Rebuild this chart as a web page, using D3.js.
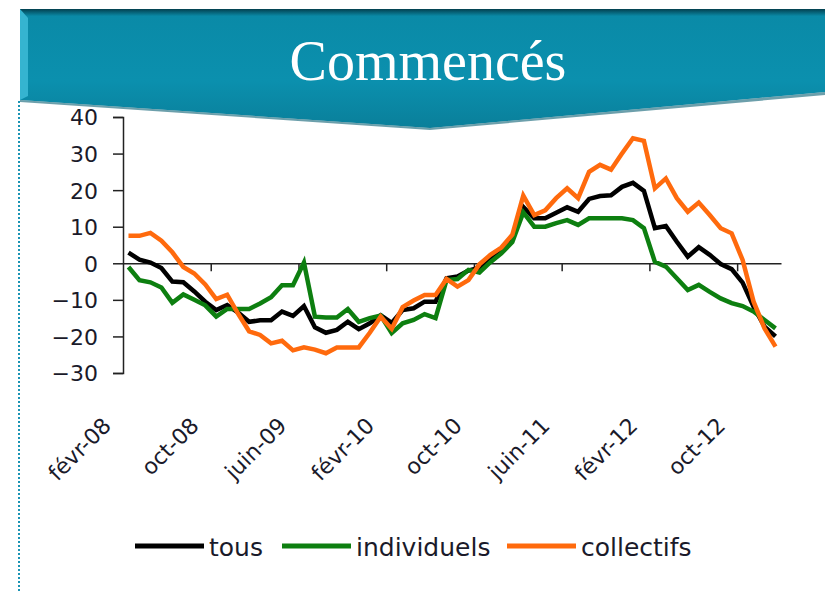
<!DOCTYPE html>
<html lang="fr">
<head>
<meta charset="UTF-8">
<title>Commencés</title>
<script src="https://d3js.org/d3.v7.min.js"></script>
<style>
  body { margin: 0; background: #fff; }
  .lbl { font-family: "DejaVu Sans", Verdana, sans-serif; fill: #1a1a2a; }
</style>
</head>
<body>
<svg id="chart" width="825" height="593"></svg>
<script>
// months févr-08 .. janv-13
const monthNames = ["janv", "févr", "mars", "avr", "mai", "juin", "juil", "août", "sept", "oct", "nov", "déc"];
const months = [];
for (let k = 1; k < 61; k++) {
    months.push(monthNames[k % 12] + "-" + String(8 + Math.floor(k / 12)).padStart(2, "0"));
}
const tickLabels = ["févr-08", "oct-08", "juin-09", "févr-10", "oct-10", "juin-11", "févr-12", "oct-12"];
const yTicks = [-30, -20, -10, 0, 10, 20, 30, 40];

const tous = [2.9, 1.0, 0.2, -1.3, -5.0, -5.2, -7.7, -10.5, -12.8, -11.4,
    -13.5, -16.0, -15.6, -15.6, -13.2, -14.4, -11.7, -17.5, -19.0, -18.2,
    -16.0, -18.0, -16.4, -14.2, -16.3, -12.8, -12.3, -10.5, -10.5, -4.1,
    -3.6, -2.0, -1.2, 1.0, 3.5, 6.6, 15.4, 12.3, 12.3, 13.8,
    15.3, 14.1, 17.6, 18.4, 18.6, 20.9, 22.0, 19.8, 9.6, 10.2,
    5.9, 1.8, 4.4, 2.3, -0.2, -1.6, -5.3, -11.9, -17.3, -20.0];
const individuels = [-1.0, -4.6, -5.2, -6.6, -10.8, -8.5, -10.0, -11.5, -14.6, -12.5,
    -12.5, -12.5, -11.0, -9.3, -6.0, -6.0, 0.2, -14.6, -14.8, -14.8,
    -12.5, -16.0, -15.0, -14.3, -19.1, -16.4, -15.5, -13.9, -15.0, -4.6,
    -4.3, -1.8, -2.5, 0.3, 2.7, 5.8, 13.9, 10.0, 10.0, 11.0,
    11.8, 10.5, 12.3, 12.3, 12.3, 12.3, 11.8, 9.6, 0.4, -0.9,
    -4.1, -7.3, -5.9, -7.8, -9.6, -10.9, -11.7, -13.2, -15.5, -17.8];
const collectifs = [7.5, 7.5, 8.3, 6.2, 3.0, -1.0, -2.8, -5.8, -9.8, -8.6,
    -13.8, -18.6, -19.6, -21.9, -21.2, -23.8, -23.0, -23.6, -24.6, -23.0,
    -23.0, -23.0, -19.0, -14.6, -17.9, -12.0, -10.2, -8.7, -8.7, -4.3,
    -6.4, -4.6, -0.3, 2.3, 4.3, 7.8, 18.5, 13.2, 14.5, 17.8,
    20.5, 17.8, 25.0, 26.9, 25.6, 30.0, 34.2, 33.5, 20.5, 23.2,
    17.8, 14.1, 16.6, 13.2, 9.6, 8.2, 0.9, -10.5, -17.8, -22.8];

const series = [
    { name: "tous", values: tous, color: "#000000" },
    { name: "individuels", values: individuels, color: "#0d7f10" },
    { name: "collectifs", values: collectifs, color: "#ff6a0d" }
];

const svg = d3.select("#chart");
const defs = svg.append("defs");

// banner
const grad = defs.append("linearGradient").attr("id", "bannerGrad")
    .attr("x1", 0).attr("y1", 0).attr("x2", 0).attr("y2", 1);
grad.append("stop").attr("offset", "0%").attr("stop-color", "#03404f");
grad.append("stop").attr("offset", "6%").attr("stop-color", "#0a8aa7");
grad.append("stop").attr("offset", "60%").attr("stop-color", "#0b90ae");
grad.append("stop").attr("offset", "100%").attr("stop-color", "#0a7f9a");

svg.append("path")
    .attr("d", "M20,9 L825,9 L825,92 L430,128 L20,100 Z")
    .attr("fill", "url(#bannerGrad)");
svg.append("path")
    .attr("d", "M20,9 L28,18 L28,96 L20,100 Z")
    .attr("fill", "#35b4d0");
svg.append("path")
    .attr("d", "M20,100 L430,128 L825,92 L825,95 L430,130 L20,102 Z")
    .attr("fill", "#0a5f73").attr("opacity", 0.6);
svg.append("text")
    .attr("x", 428).attr("y", 80)
    .attr("text-anchor", "middle")
    .style("font-family", "'Liberation Serif', 'DejaVu Serif', serif")
    .style("font-size", "56px")
    .attr("fill", "#fff")
    .text("Commencés");

// dotted left border
svg.append("line")
    .attr("x1", 19).attr("x2", 19).attr("y1", 101).attr("y2", 593)
    .attr("stroke", "#1a93b3").attr("stroke-width", 2)
    .attr("stroke-dasharray", "2,2");

// scales
const x = d3.scaleBand().domain(months).range([123, 781]).padding(0);
const xIdx = d3.scaleLinear().domain([0, months.length]).range([123, 781]);
const y = d3.scaleLinear().domain([-30, 40]).range([373, 117]);
const cx = d => x(d) + x.bandwidth() / 2;

// y axis
const yAxis = svg.append("g")
    .attr("transform", "translate(123,0)")
    .call(d3.axisLeft(y).tickValues(yTicks).tickSize(10).tickPadding(15).tickFormat(d3.format("d")));
yAxis.select(".domain").attr("stroke", "#222").attr("stroke-width", 1.5);
yAxis.selectAll(".tick line").attr("stroke", "#222").attr("stroke-width", 1.5);
yAxis.selectAll("text")
    .attr("class", "lbl")
    .style("font-size", "22px")
    .attr("dy", "0.36em");

// x axis on zero line
const xAxis = svg.append("g")
    .attr("transform", `translate(0,${y(0)})`)
    .call(d3.axisBottom(xIdx).tickValues([8, 16, 24, 32, 40, 48, 56]).tickSize(8).tickSizeOuter(0).tickFormat(""));
xAxis.select(".domain").attr("stroke", "#222").attr("stroke-width", 1.5);
xAxis.selectAll(".tick line").attr("stroke", "#222").attr("stroke-width", 1.5);

svg.append("g").selectAll("text")
    .data(tickLabels)
    .enter()
    .append("text")
    .attr("class", "lbl")
    .attr("text-anchor", "end")
    .style("font-size", "22px")
    .attr("transform", d => `translate(${cx(d) - 16},427) rotate(-45)`)
    .text(d => d);

// lines
const line = d3.line()
    .x((d, i) => cx(months[i]))
    .y(d => y(d));

svg.append("g").selectAll("path")
    .data(series)
    .enter()
    .append("path")
    .attr("d", d => line(d.values))
    .attr("fill", "none")
    .attr("stroke", d => d.color)
    .attr("stroke-width", 4.5)
    .attr("stroke-linejoin", "miter");

// legend
const legendPos = [135, 282, 507];
const lg = svg.append("g");
series.forEach((s, i) => {
    lg.append("line")
        .attr("x1", legendPos[i]).attr("x2", legendPos[i] + 69)
        .attr("y1", 546).attr("y2", 546)
        .attr("stroke", s.color).attr("stroke-width", 5);
    lg.append("text")
        .attr("class", "lbl")
        .attr("x", legendPos[i] + 74).attr("y", 556)
        .style("font-size", "25px")
        .text(s.name);
});
</script>
</body>
</html>
